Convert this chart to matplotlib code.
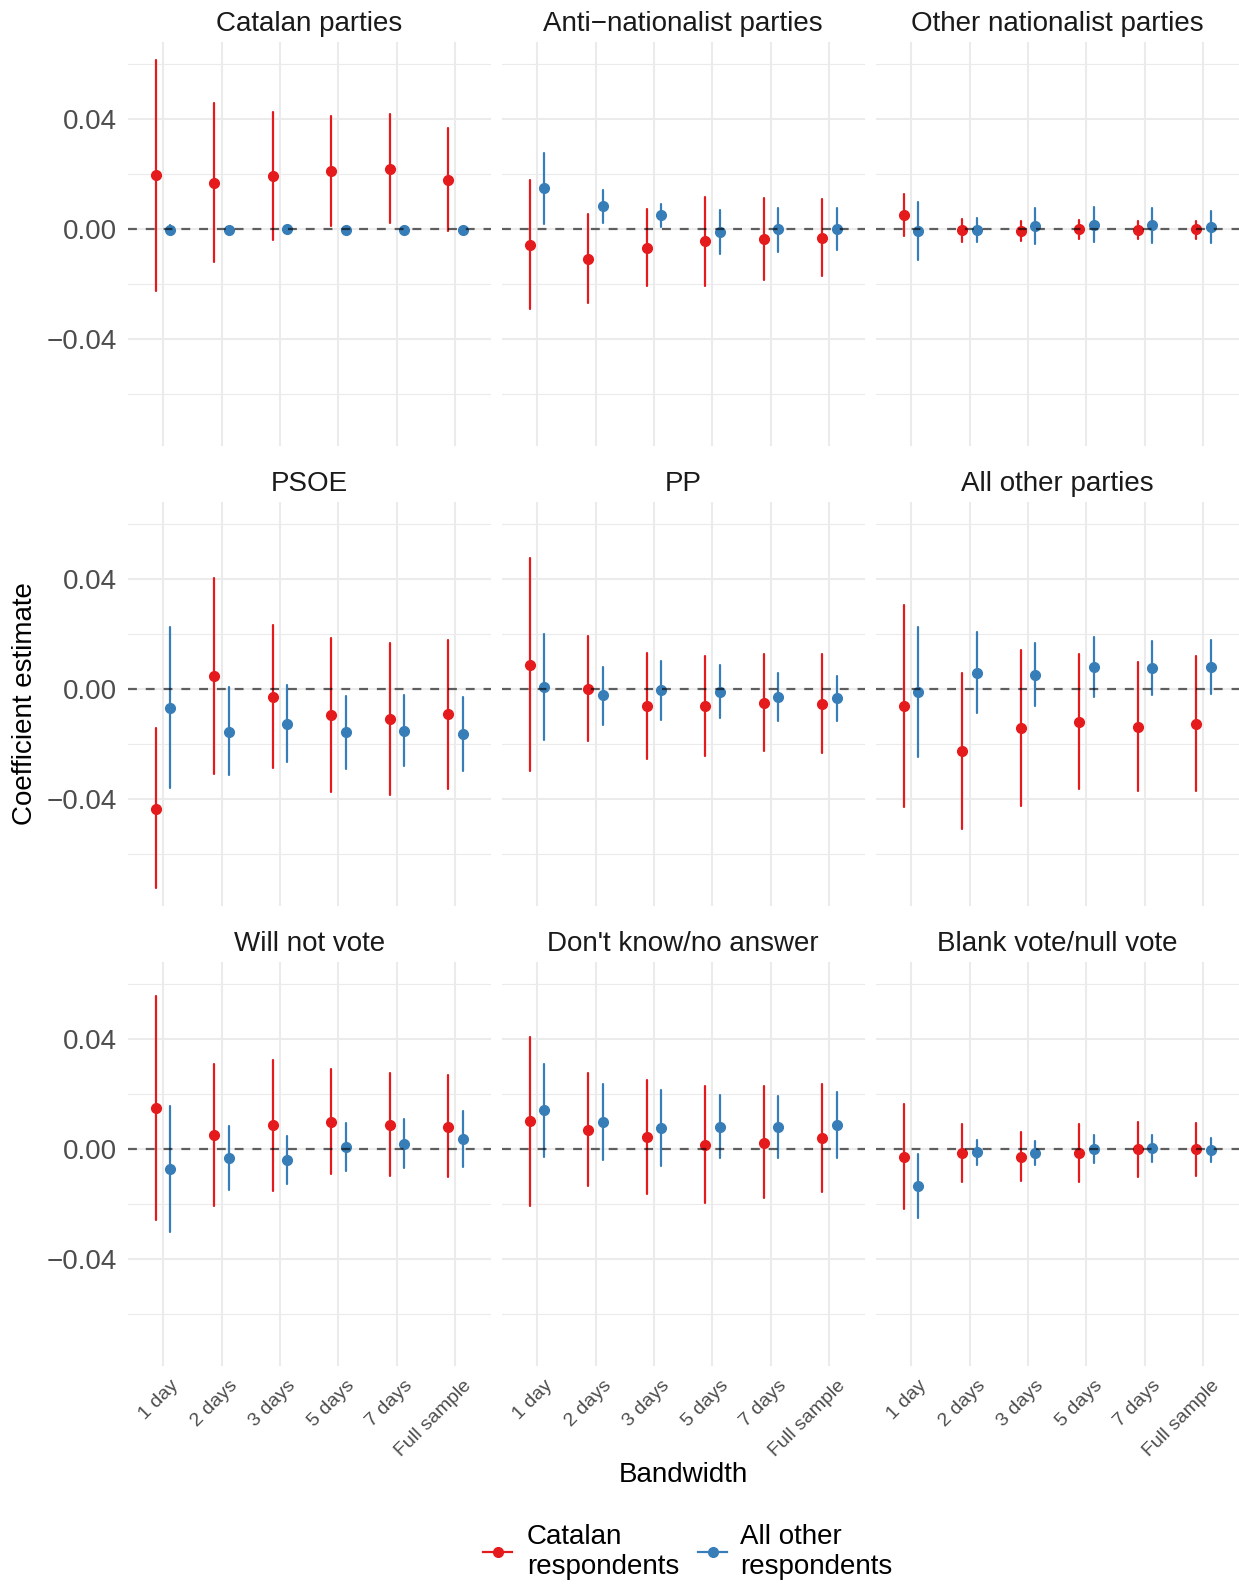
import matplotlib
matplotlib.use("Agg")
import matplotlib.pyplot as plt
import matplotlib.transforms as mtransforms
from matplotlib.lines import Line2D
import numpy as np

plt.rcParams['font.family'] = ['Liberation Sans', 'DejaVu Sans']

# ---------------- data ----------------
bandwidths = ["1 day", "2 days", "3 days", "5 days", "7 days", "Full sample"]
outcomes = ["Catalan parties", "Anti\u2212nationalist parties", "Other nationalist parties",
            "PSOE", "PP", "All other parties",
            "Will not vote", "Don't know/no answer", "Blank vote/null vote"]
groups = ["Catalan\nrespondents", "All other\nrespondents"]
group_colors = ["#E41A1C", "#377EB8"]

# Catalan respondents: estimate, lower, upper (rows = outcomes, cols = bandwidths)
cat_est = [
    [0.0195, 0.0168, 0.0193, 0.0211, 0.0218, 0.0178],
    [-0.0057, -0.0108, -0.0069, -0.0045, -0.0038, -0.0032],
    [0.0050, -0.0004, -0.0006, -0.0002, -0.0004, -0.0002],
    [-0.0435, 0.0046, -0.0029, -0.0095, -0.0109, -0.0093],
    [0.0088, 0.0001, -0.0063, -0.0062, -0.0050, -0.0055],
    [-0.0064, -0.0227, -0.0142, -0.0119, -0.0138, -0.0127],
    [0.0148, 0.0051, 0.0085, 0.0099, 0.0088, 0.0081],
    [0.0102, 0.0070, 0.0042, 0.0015, 0.0023, 0.0039],
    [-0.0029, -0.0015, -0.0028, -0.0016, -0.0002, -0.0002],
]
cat_lo = [
    [-0.0225, -0.0119, -0.0041, 0.0010, 0.0022, -0.0008],
    [-0.0293, -0.0269, -0.0208, -0.0208, -0.0187, -0.0173],
    [-0.0027, -0.0047, -0.0045, -0.0038, -0.0036, -0.0036],
    [-0.0724, -0.0310, -0.0287, -0.0373, -0.0387, -0.0364],
    [-0.0298, -0.0190, -0.0256, -0.0245, -0.0227, -0.0234],
    [-0.0430, -0.0508, -0.0424, -0.0365, -0.0371, -0.0372],
    [-0.0257, -0.0206, -0.0154, -0.0092, -0.0099, -0.0104],
    [-0.0206, -0.0135, -0.0165, -0.0198, -0.0179, -0.0158],
    [-0.0219, -0.0122, -0.0116, -0.0120, -0.0102, -0.0098],
]
cat_hi = [
    [0.0615, 0.0457, 0.0425, 0.0411, 0.0416, 0.0365],
    [0.0178, 0.0053, 0.0072, 0.0116, 0.0113, 0.0109],
    [0.0126, 0.0036, 0.0030, 0.0032, 0.0028, 0.0029],
    [-0.0142, 0.0404, 0.0233, 0.0185, 0.0168, 0.0178],
    [0.0474, 0.0193, 0.0131, 0.0121, 0.0128, 0.0126],
    [0.0303, 0.0058, 0.0142, 0.0128, 0.0096, 0.0119],
    [0.0554, 0.0309, 0.0324, 0.0291, 0.0276, 0.0269],
    [0.0407, 0.0274, 0.0250, 0.0228, 0.0227, 0.0236],
    [0.0164, 0.0092, 0.0063, 0.0091, 0.0096, 0.0095],
]

# All other respondents
oth_est = [
    [-0.0003, -0.0005, -0.0002, -0.0004, -0.0005, -0.0004],
    [0.0147, 0.0082, 0.0050, -0.0011, -0.0002, 0.0000],
    [-0.0007, -0.0004, 0.0011, 0.0015, 0.0013, 0.0007],
    [-0.0068, -0.0155, -0.0127, -0.0158, -0.0153, -0.0165],
    [0.0007, -0.0024, -0.0005, -0.0011, -0.0030, -0.0035],
    [-0.0012, 0.0057, 0.0052, 0.0079, 0.0075, 0.0078],
    [-0.0074, -0.0035, -0.0039, 0.0007, 0.0019, 0.0035],
    [0.0142, 0.0097, 0.0075, 0.0081, 0.0079, 0.0087],
    [-0.0136, -0.0013, -0.0015, 0.0000, 0.0004, -0.0004],
]
oth_lo = [
    [-0.0019, -0.0011, -0.0007, -0.0009, -0.0010, -0.0009],
    [0.0019, 0.0023, 0.0006, -0.0090, -0.0085, -0.0078],
    [-0.0112, -0.0048, -0.0055, -0.0048, -0.0051, -0.0050],
    [-0.0359, -0.0314, -0.0267, -0.0290, -0.0281, -0.0299],
    [-0.0185, -0.0131, -0.0112, -0.0105, -0.0118, -0.0116],
    [-0.0247, -0.0088, -0.0061, -0.0029, -0.0024, -0.0019],
    [-0.0302, -0.0150, -0.0126, -0.0079, -0.0070, -0.0065],
    [-0.0028, -0.0039, -0.0063, -0.0034, -0.0035, -0.0032],
    [-0.0251, -0.0057, -0.0059, -0.0051, -0.0047, -0.0048],
]
oth_hi = [
    [0.0013, 0.0001, 0.0003, 0.0001, 0.0000, 0.0001],
    [0.0276, 0.0142, 0.0091, 0.0069, 0.0076, 0.0075],
    [0.0097, 0.0040, 0.0075, 0.0079, 0.0076, 0.0065],
    [0.0224, 0.0006, 0.0013, -0.0025, -0.0022, -0.0029],
    [0.0200, 0.0080, 0.0101, 0.0085, 0.0058, 0.0048],
    [0.0225, 0.0205, 0.0167, 0.0188, 0.0175, 0.0176],
    [0.0155, 0.0082, 0.0048, 0.0095, 0.0109, 0.0136],
    [0.0310, 0.0234, 0.0213, 0.0196, 0.0193, 0.0207],
    [-0.0019, 0.0032, 0.0030, 0.0050, 0.0052, 0.0040],
]

y_major = [-0.04, 0.0, 0.04]
y_major_labels = ["\u22120.04", "0.00", "0.04"]
y_minor = [-0.06, -0.02, 0.02, 0.06]

# ---------------- layout ----------------
W, H = 1239, 1585
fig = plt.figure(figsize=(W / 100, H / 100), dpi=100)
fig.patch.set_facecolor("white")

col_left = [128, 502, 876]
row_top = [42, 502, 962]
pw, ph = 362.5, 404

grid_col = "#EBEBEB"
tick_col = "#4D4D4D"

series = [(cat_est, cat_lo, cat_hi), (oth_est, oth_lo, oth_hi)]
offsets = [-0.125, 0.125]

for i, name in enumerate(outcomes):
    r, c = divmod(i, 3)
    ax = fig.add_axes([col_left[c] / W, 1 - (row_top[r] + ph) / H, pw / W, ph / H])
    ax.set_facecolor("white")
    for s in ax.spines.values():
        s.set_visible(False)
    xpos = np.arange(1, len(bandwidths) + 1)
    for g, (est, lo, hi) in enumerate(series):
        e = np.array(est[i]); l = np.array(lo[i]); h = np.array(hi[i])
        ax.errorbar(xpos + offsets[g], e, yerr=[e - l, h - e], fmt='o',
                    color=group_colors[g], ms=7, elinewidth=1.6,
                    capsize=1.0, capthick=1.2, zorder=3)
    ax.axhline(0, color="black", alpha=0.6, lw=1.6, ls=(0, (4, 4)), zorder=4)

    ax.set_xlim(0.4, 6.6)
    ax.set_ylim(-0.0789, 0.0679)
    ax.set_xticks(xpos)
    ax.set_yticks(y_major)
    ax.set_yticks(y_minor, minor=True)
    ax.grid(which="major", color=grid_col, lw=1.5, zorder=0)
    ax.grid(which="minor", axis="y", color=grid_col, lw=0.8, zorder=0)
    ax.set_axisbelow(True)
    ax.tick_params(which="both", length=0)

    if c == 0:
        ax.set_yticklabels(y_major_labels, fontsize=20, color=tick_col)
        ax.tick_params(axis="y", pad=8)
    else:
        ax.set_yticklabels([])
    if r == 2:
        ax.set_xticklabels(bandwidths, fontsize=14, color=tick_col, rotation=45,
                           ha="right", va="top", rotation_mode="anchor")
        ax.tick_params(axis="x", pad=8)
        off = mtransforms.ScaledTranslation(5 / 72, 0, fig.dpi_scale_trans)
        for lab in ax.get_xticklabels():
            lab.set_transform(lab.get_transform() + off)
    else:
        ax.set_xticklabels([])

    ax.text(0.5, 1 + 11.5 / ph, name, transform=ax.transAxes, ha="center",
            va="baseline", fontsize=20, color="#1A1A1A")

# axis titles
fig.text(25 / W, 1 - 704 / H, "Coefficient estimate", rotation=90, ha="center",
         va="center", fontsize=20, color="black")
fig.text(683 / W, 1 - 1482 / H, "Bandwidth", ha="center", va="baseline",
         fontsize=20, color="black")

# legend
key_x = [(483, 512), (698, 727)]
text_x = [527, 740]
key_y = 1552
for g in range(2):
    x0, x1 = key_x[g]
    fig.add_artist(Line2D([x0 / W, x1 / W], [1 - key_y / H, 1 - key_y / H],
                          transform=fig.transFigure, color=group_colors[g], lw=1.6))
    fig.add_artist(Line2D([(x0 + x1) / 2 / W], [1 - key_y / H],
                          transform=fig.transFigure, color=group_colors[g],
                          marker="o", ms=7, lw=0))
    fig.text(text_x[g] / W, 1 - key_y / H, groups[g], ha="left", va="center",
             fontsize=20, color="black", linespacing=1.15)

fig.savefig("out.png", dpi=100, facecolor="white")
